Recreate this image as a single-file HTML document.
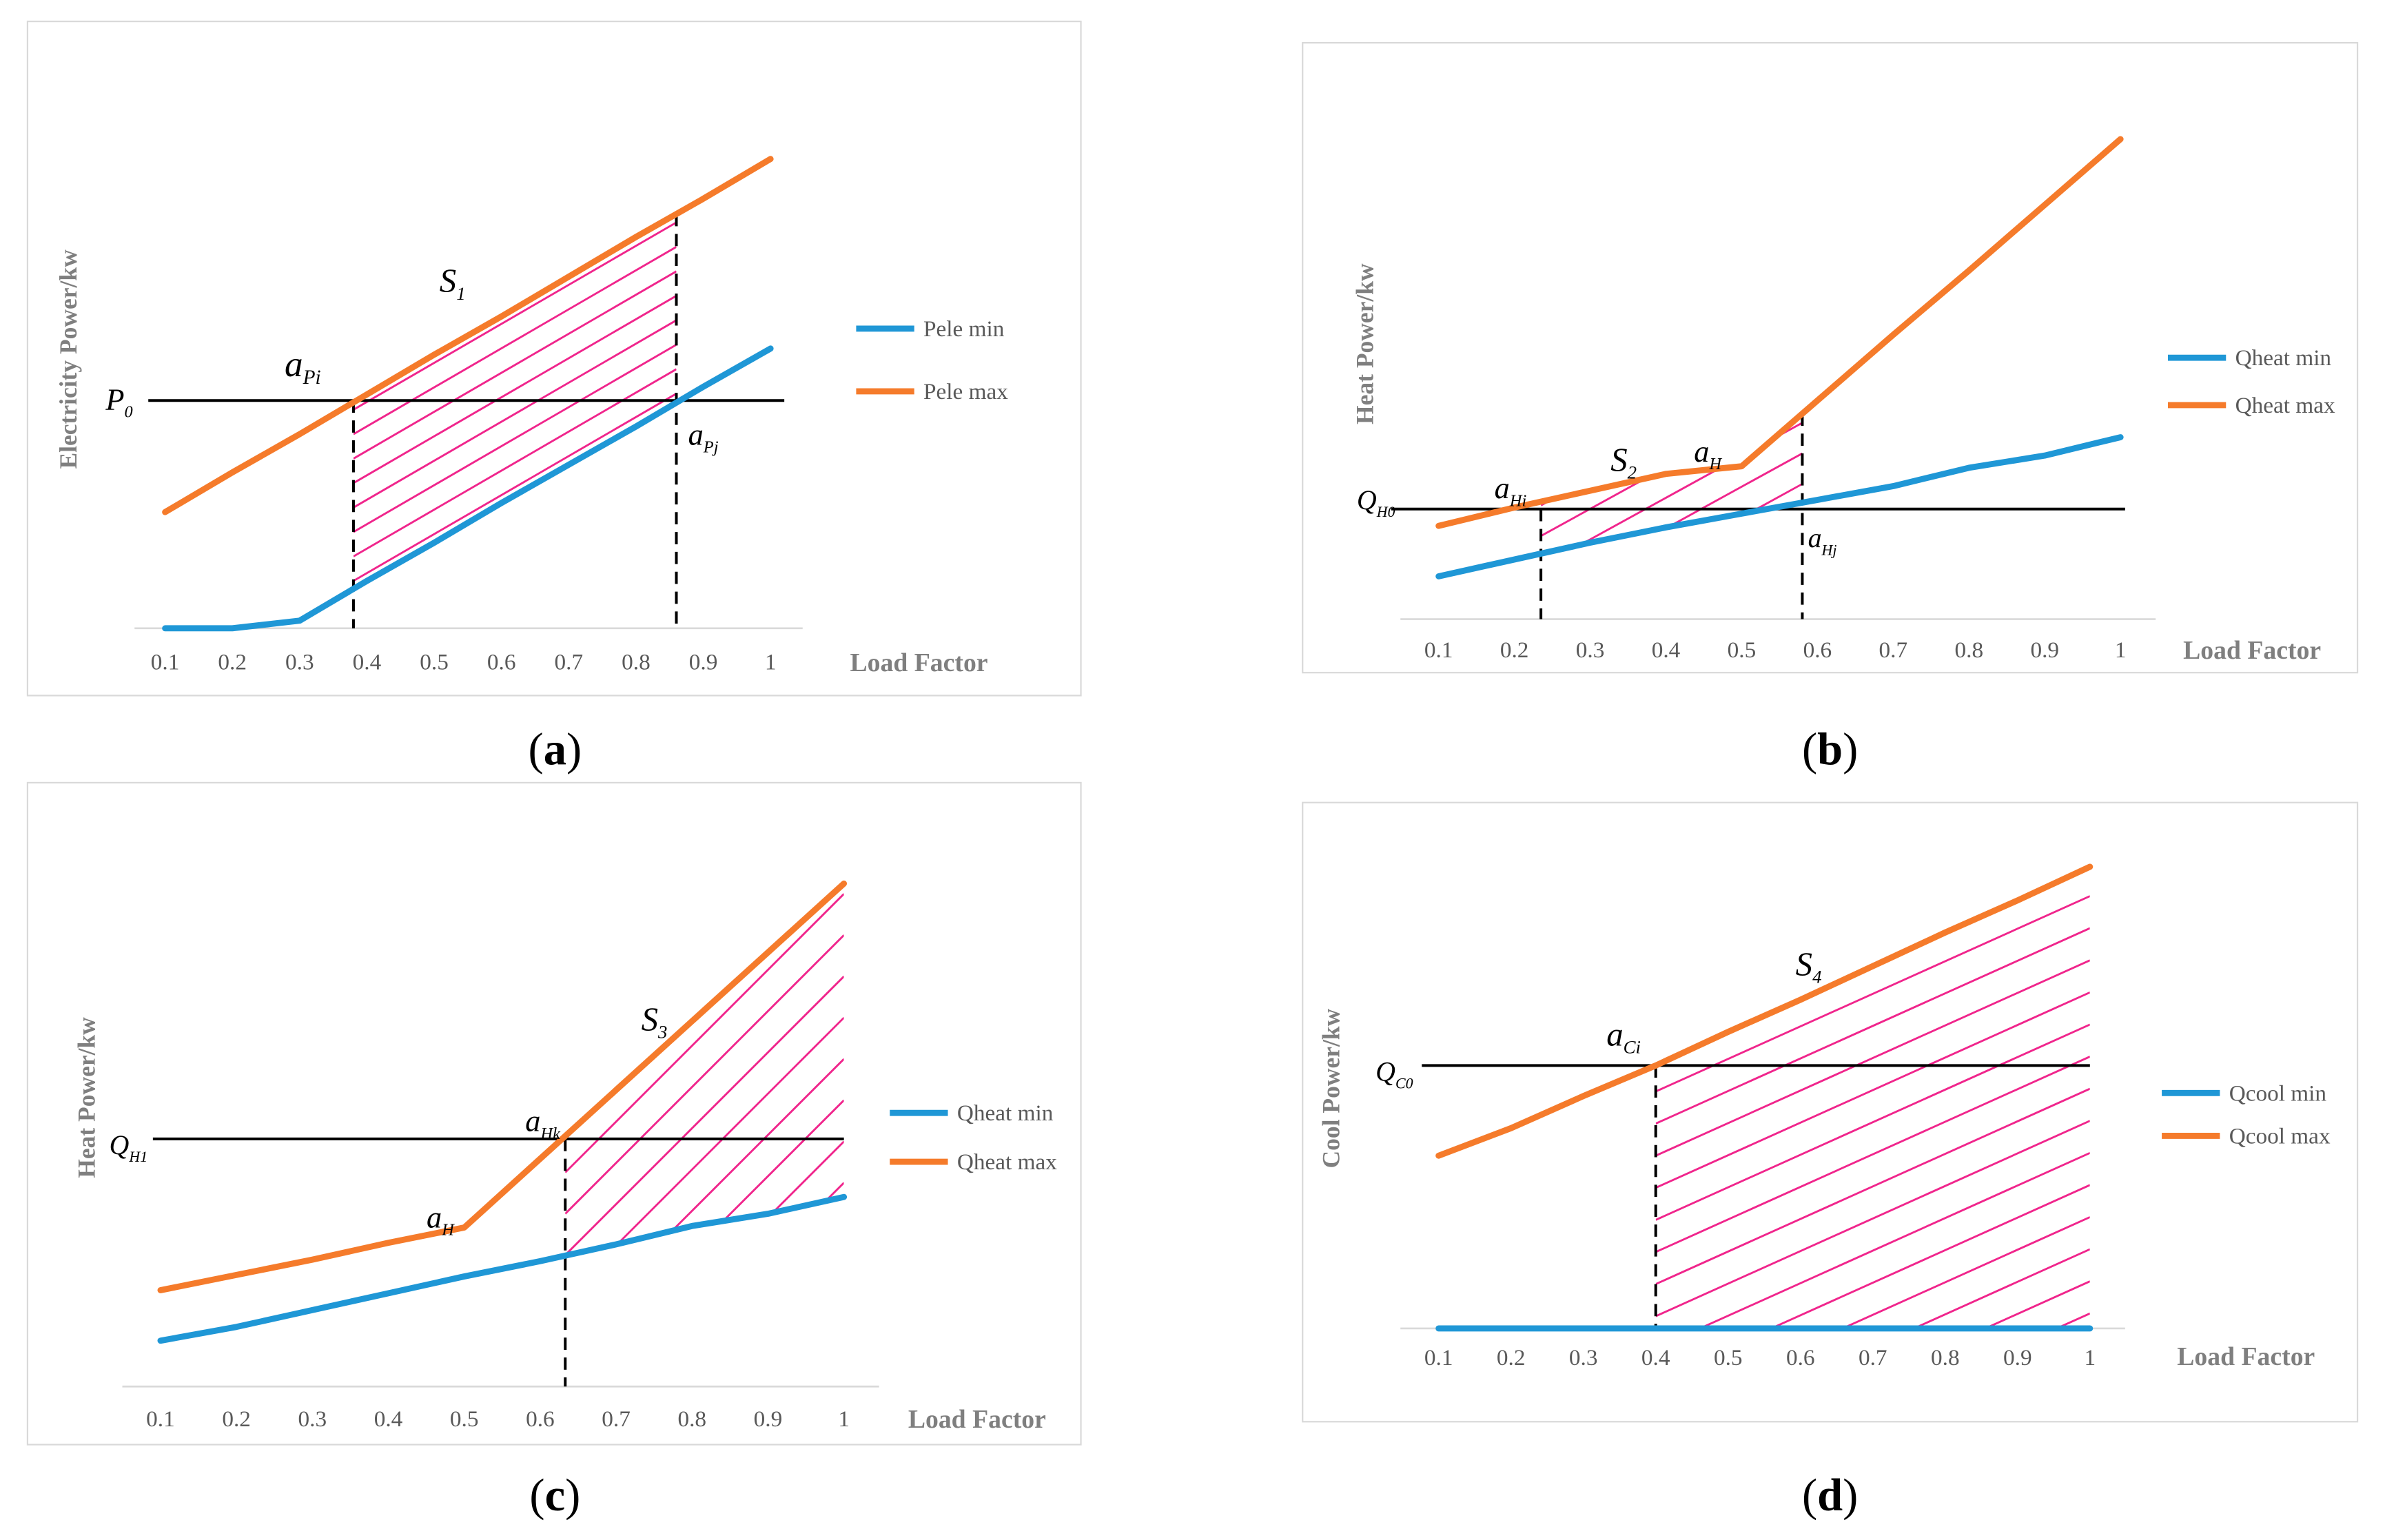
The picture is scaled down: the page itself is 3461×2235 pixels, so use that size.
<!DOCTYPE html>
<html><head><meta charset="utf-8"><style>
html,body{margin:0;padding:0;background:#fff;width:3461px;height:2235px;overflow:hidden}
svg{display:block;position:absolute;left:0;top:0}
text{font-family:"Liberation Serif",serif}
</style></head><body>
<svg id="fig" width="3461" height="2235" viewBox="0 0 1560 1007.4" preserveAspectRatio="none" xmlns="http://www.w3.org/2000/svg">
<defs></defs>
</svg>
<script>
const xCats = ["0.1","0.2","0.3","0.4","0.5","0.6","0.7","0.8","0.9","1"];
// panel a
const aMax = [76,102,127,153,179,204,230,256,281,307];
const aMin = [0,0,5,31,56,82,107,132,158,183];
// panel b
const bMax = [61,73,84,95,100,143,186,228,271,314];
const bMin = [28,39,50,60,69,78,87,99,107,119];
// panel c
const cMax = [63,73,83,94,104,149,194,239,284,329];
const cMin = [30,39,50,61,72,82,93,105,113,124];
// panel d
const dMax = [113,131,152,172,194,215,237,259,280,302];
const dMin = [0,0,0,0,0,0,0,0,0,0];

const NS="http://www.w3.org/2000/svg";
const svg=document.getElementById('fig');
const defs=svg.querySelector('defs');
function el(tag,attrs,parent){const e=document.createElementNS(NS,tag);for(const k in attrs)e.setAttribute(k,attrs[k]);(parent||svg).appendChild(e);return e;}
const BLUE="#1f97d6",ORANGE="#f57b2b",PINK="#f0258c",GRAY="#595959";

const panels=[
 {id:'a',box:[18,14,689,441],base:411,ax0:88,ax1:525,x0:108,x1:504,max:aMax,min:aMin,names:["Pele min","Pele max"],
  yTitle:"Electricity Power/kw",yTx:50,yTy:235,lf:[556,433],tickY:433,leg:[560,215,256],ref:149,refX:[97,513],
  dash:[0.38,0.86],hatch:{x:[0.38,0.86],lo:'min',slope:0.58,gap:16},cap:[363,490],
  ann:[["P","0",78,262,20],["a","Pi",198,240,24],["a","Pj",460,285,20],["S","1",296,185,22]]},
 {id:'b',box:[852,28,690,412],base:405,ax0:916,ax1:1410,x0:941,x1:1387,max:bMax,min:bMin,names:["Qheat min","Qheat max"],
  yTitle:"Heat Power/kw",yTx:898,yTy:225,lf:[1428,425],tickY:425,leg:[1418,234,265],ref:72,refX:[910,1390],
  dash:[0.235,0.58],hatch:{x:[0.235,0.58],lo:'min',slope:0.55,gap:20},cap:[1197,490],
  ann:[["Q","H0",900,327,18],["a","Hi",988,320,20],["a","Hj",1192,352,18],["S","2",1062,302,22],["a","H",1117,296,20]]},
 {id:'c',box:[18,512,689,433],base:907,ax0:80,ax1:575,x0:105,x1:552,max:cMax,min:cMin,names:["Qheat min","Qheat max"],
  yTitle:"Heat Power/kw",yTx:62,yTy:718,lf:[594,928],tickY:928,leg:[582,728,760],ref:162,refX:[100,552],
  dash:[0.633,null],hatch:{x:[0.633,1.0],lo:'min',slope:1.0,gap:27},cap:[363,978],
  ann:[["Q","H1",84,749,18],["a","H",288,797,20],["a","Hk",355,734,20],["S","3",428,668,22]]},
 {id:'d',box:[852,525,690,405],base:869,ax0:916,ax1:1390,x0:941,x1:1367,max:dMax,min:dMin,names:["Qcool min","Qcool max"],
  yTitle:"Cool Power/kw",yTx:876,yTy:712,lf:[1424,887],tickY:888,leg:[1414,715,743],ref:172,refX:[930,1367],
  dash:[0.4,null],hatch:{x:[0.4,1.0],lo:'base',slope:0.45,gap:21},cap:[1197,978],
  ann:[["Q","C0",912,701,18],["a","Ci",1062,678,22],["S","4",1183,632,22]]}
];

panels.forEach(p=>{
  const g=el('g',{});
  
  
  const xs=v=>p.x0+(v-0.1)/0.9*(p.x1-p.x0);
  const ys=v=>p.base-v;
  const interp=(arr,v)=>{const t=(v-0.1)*10;const i=Math.max(0,Math.min(8,Math.floor(t)));const f=t-i;return arr[i]+(arr[i+1]-arr[i])*f;};
  const fr=el('rect',{x:p.box[0],y:p.box[1],width:p.box[2],height:p.box[3],fill:'none',stroke:'#d9d9d9','stroke-width':1},g);
   
  const ax=el('line',{x1:p.ax0,x2:p.ax1,y1:p.base,y2:p.base,stroke:'#d9d9d9','stroke-width':1.2},g);
   
  xCats.forEach((c,i)=>{const t=el('text',{x:xs(0.1+i*0.1),y:p.tickY+5,'font-size':15,fill:GRAY,'text-anchor':'middle'},g);t.textContent=c;
     });
  const cid='clip'+p.id;
  const cp=el('clipPath',{id:cid},defs);
  const hx0=p.hatch.x[0],hx1=p.hatch.x[1];
  let pts=[];
  const N=40;
  for(let k=0;k<=N;k++){const v=hx0+(hx1-hx0)*k/N;pts.push([xs(v),ys(interp(p.max,v))]);}
  for(let k=N;k>=0;k--){const v=hx0+(hx1-hx0)*k/N;let lo=p.hatch.lo==='ref'?p.ref:p.hatch.lo==='min'?interp(p.min,v):0;pts.push([xs(v),ys(lo)]);}
  el('polygon',{points:pts.map(q=>q.join(',')).join(' ')},cp);
  const pyMin=Math.min(...pts.map(q=>q[1])),pyMax=Math.max(...pts.map(q=>q[1]));
  const hg=el('g',{'clip-path':'url(#'+cid+')'},g);
   
  const X0=xs(hx0),X1=xs(hx1),s=p.hatch.slope;
  for(let yy=pyMin;yy<pyMax+s*(X1-X0);yy+=p.hatch.gap){
    // clip line to polygon bbox
    let xa=X0,xb=X1;
    if(yy>pyMax) xa=X0+(yy-pyMax)/s;
    const yEnd=yy-s*(X1-X0);
    if(yEnd<pyMin) xb=X0+(yy-pyMin)/s;
    if(xb<=xa) continue;
    el('line',{x1:xa,y1:yy-s*(xa-X0),x2:xb,y2:yy-s*(xb-X0),stroke:PINK,'stroke-width':1.3},hg);
  }
  const rl=el('line',{x1:p.refX[0],x2:p.refX[1],y1:ys(p.ref),y2:ys(p.ref),stroke:'#000','stroke-width':1.8},g);
   
  p.dash.forEach((d,i)=>{ if(d===null)return;
    const top=i===0?ys(p.ref):ys(interp(p.max,d));
    const dl=el('line',{x1:xs(d),x2:xs(d),y1:top,y2:p.base,stroke:'#000','stroke-width':1.8,'stroke-dasharray':'8,5'},g);
     });
  [[p.min,BLUE,'series-min'],[p.max,ORANGE,'series-max']].forEach(([arr,col,nm])=>{
    const pl=el('polyline',{points:arr.map((v,i)=>xs(0.1+i*0.1)+','+ys(v)).join(' '),fill:'none',stroke:col,'stroke-width':4,'stroke-linejoin':'round','stroke-linecap':'round'},g);
     
  });
  [[BLUE,p.leg[1],p.names[0]],[ORANGE,p.leg[2],p.names[1]]].forEach(([col,y,nm])=>{
    const lg=el('g',{},g);
     
    el('line',{x1:p.leg[0],x2:p.leg[0]+38,y1:y,y2:y,stroke:col,'stroke-width':4},lg);
    const t=el('text',{x:p.leg[0]+44,y:y+5,'font-size':15,fill:GRAY},lg);t.textContent=nm;
  });
  const yt=el('text',{x:p.yTx,y:p.yTy,'font-size':16,'font-weight':'bold',fill:'#7f7f7f','text-anchor':'middle',transform:'rotate(-90 '+p.yTx+' '+p.yTy+')'},g);
  yt.textContent=p.yTitle;  
  const lf=el('text',{x:p.lf[0],y:p.lf[1]+6,'font-size':17,'font-weight':'bold',fill:'#7f7f7f'},g);
  lf.textContent='Load Factor';  
  const cap=el('text',{x:p.cap[0],y:p.cap[1]+10,'font-size':30,fill:'#000','text-anchor':'middle'},g);
  cap.innerHTML='(<tspan font-weight="bold">'+p.id+'</tspan>)';
   
  p.ann.forEach(a=>{
    const t=el('text',{x:a[2],y:a[3]+6,'font-size':a[4],'font-style':'italic',fill:'#000','text-anchor':'middle'},g);
    t.innerHTML=a[0]+'<tspan font-size="'+(a[4]*0.55)+'" dy="5">'+a[1]+'</tspan>';
     
  });
});
</script>
</body></html>
